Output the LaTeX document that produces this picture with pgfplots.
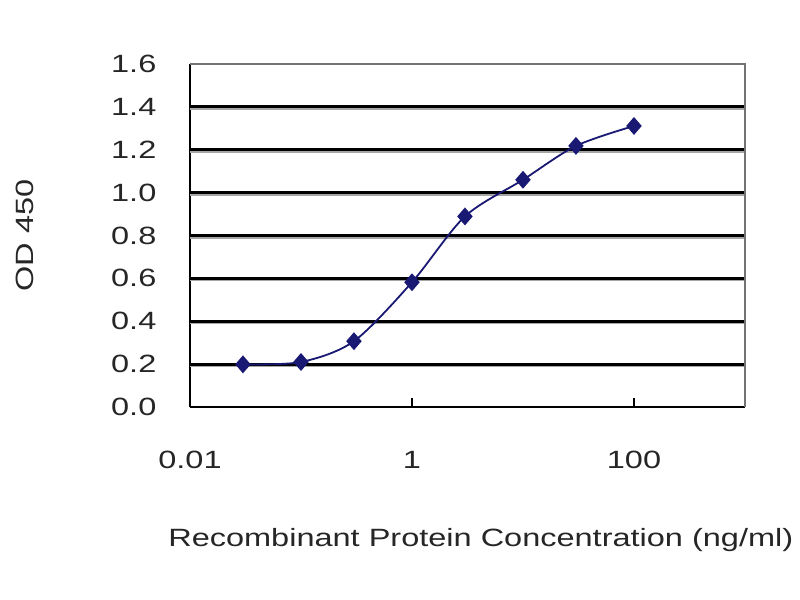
\documentclass[border=0pt]{standalone}
\usepackage{fontspec}
\setmainfont{Liberation Sans}[FakeStretch=1.3]
\usepackage{pgfplots}
\pgfplotsset{compat=1.18}
\definecolor{navy}{RGB}{25,25,115}
\begin{document}
\begin{tikzpicture}
\path[use as bounding box] (-95pt,-96.5pt) rectangle (305pt,203.5pt);
\begin{axis}[
  at={(0,0)}, anchor=south west,
  scale only axis, width=277.5pt, height=171.5pt,
  xmode=log, xmin=0.01, xmax=1000, ymin=0, ymax=1.6,
  axis lines*=left,
  axis line style={black, line width=0.9pt},
  xtick={0.01,1,100}, xticklabels={0.01,1,100},
  minor xtick={},
  ytick={0,0.2,0.4,0.6,0.8,1.0,1.2,1.4,1.6},
  ytick style={draw=none},
  xtick style={black, line width=0.8pt},
  tick align=inside, major tick length=4.5pt,
  /pgf/number format/.cd, fixed, fixed zerofill, precision=1, assume math mode=true,
  /pgfplots/.cd,
  tick label style={font=\fontsize{12.5}{15}\selectfont, text=black!85},
  xticklabel style={anchor=center, yshift=-26.5pt},
  yticklabel style={anchor=east, xshift=-13.3pt},
  extra y ticks={0.2,0.4,0.6,0.8,1.0,1.2,1.4},
  extra y tick labels={},
  extra y tick style={grid=major, major grid style={black, line width=1.5pt}, tick style={draw=none}},
  xlabel={Recombinant Protein Concentration (ng/ml)},
  ylabel={OD 450},
  every axis x label/.style={at={(rel axis cs:0.524,-0.388)}, anchor=center, font=\fontsize{12.5}{15}\selectfont, text=black!85},
  every axis y label/.style={at={(rel axis cs:-0.297,0.5)}, rotate=90, anchor=center, font=\fontsize{12.5}{15}\selectfont, text=black!85},
  clip=false,
]
\pgfplotsinvokeforeach{0.2,0.4,0.6,0.8,1.0,1.2,1.4}{
  \draw[black!35, line width=0.8pt] ([yshift=-1.1pt]axis cs:0.01,#1) -- ([yshift=-1.1pt]axis cs:1000,#1);
}
\draw[black!55, line width=0.7pt] (rel axis cs:0,1) -- (rel axis cs:1,1) -- (rel axis cs:1,0);
\addplot[navy, line width=0.9pt, smooth, tension=0.5, mark=diamond*, mark size=3.8pt, mark options={fill=navy, solid, xscale=1.15}]
  coordinates {(0.03,0.199) (0.1,0.21) (0.3,0.307) (1,0.582) (3,0.889) (10,1.06) (30,1.218) (100,1.311)};
\end{axis}
\end{tikzpicture}
\end{document}
